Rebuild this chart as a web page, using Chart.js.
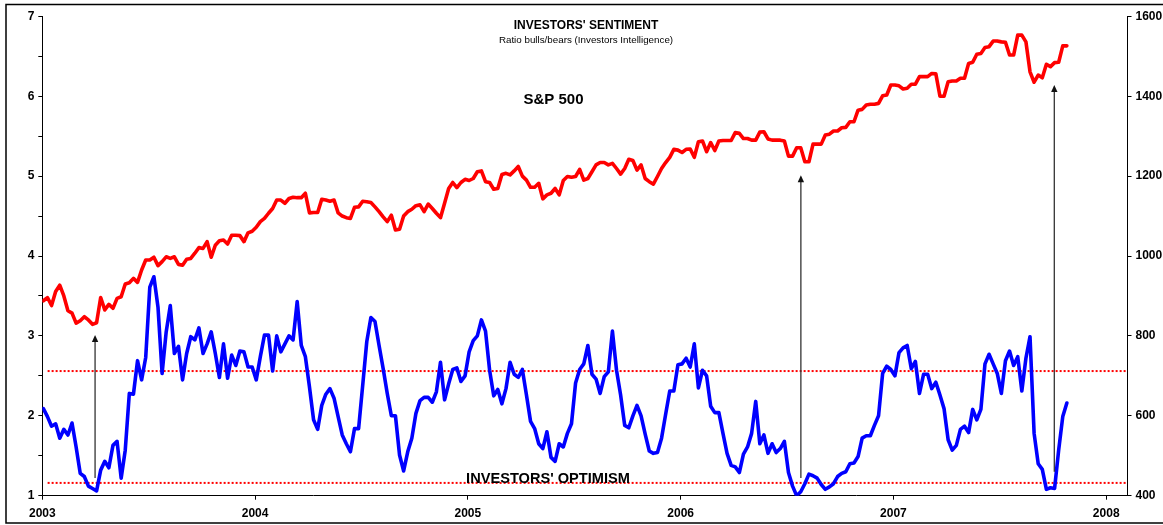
<!DOCTYPE html>
<html>
<head>
<meta charset="utf-8">
<script src="https://cdn.jsdelivr.net/npm/chart.js@4.4.1/dist/chart.umd.min.js"></script>
<style>
  html, body { margin: 0; padding: 0; background: #fff; }
  canvas { display: block; }
</style>
</head>
<body>
<canvas id="chart" width="1163" height="525"></canvas>
<script>
// weekly readings, first week early Jan 2003
const FIRST_WEEK = 2003.005;
const WEEK_STEP = 0.01924;

// Investors Intelligence bulls/bears ratio (left axis)
const bullsBears = [
  2.09, 1.99, 1.87, 1.90, 1.72, 1.83, 1.76, 1.91, 1.61, 1.28,
  1.24, 1.12, 1.09, 1.06, 1.32, 1.43, 1.35, 1.63, 1.68, 1.22,
  1.57, 2.28, 2.27, 2.69, 2.45, 2.73, 3.61, 3.74, 3.36, 2.53,
  3.05, 3.38, 2.78, 2.87, 2.45, 2.78, 2.99, 2.95, 3.10, 2.78,
  2.90, 3.05, 2.78, 2.48, 2.90, 2.47, 2.76, 2.63, 2.81, 2.80,
  2.61, 2.61, 2.45, 2.74, 3.01, 3.01, 2.56, 3.00, 2.80, 2.90,
  3.00, 2.95, 3.43, 2.88, 2.74, 2.36, 1.95, 1.83, 2.13, 2.27,
  2.34, 2.22, 1.99, 1.76, 1.65, 1.55, 1.84, 1.84, 2.38, 2.93,
  3.23, 3.18, 2.88, 2.59, 2.28, 2.00, 2.00, 1.51,
  1.31, 1.55, 1.72, 2.03, 2.19, 2.23, 2.23, 2.17, 2.30, 2.67,
  2.20, 2.40, 2.58, 2.60, 2.43, 2.50, 2.80, 2.94, 3.00, 3.20,
  3.06, 2.57, 2.25, 2.33, 2.15, 2.34, 2.67, 2.52, 2.48, 2.58,
  2.26, 1.93, 1.84, 1.65, 1.59, 1.80, 1.48, 1.43, 1.65, 1.61,
  1.78, 1.90, 2.41, 2.58, 2.65, 2.88, 2.52, 2.46, 2.28, 2.49,
  2.55, 3.06, 2.57, 2.26, 1.88, 1.85, 2.00, 2.13, 2.00, 1.77,
  1.56, 1.53, 1.54, 1.72, 2.02, 2.31, 2.31, 2.64, 2.65, 2.72,
  2.61, 2.90, 2.35, 2.57, 2.50, 2.12, 2.04, 2.04, 1.78, 1.53,
  1.38, 1.36, 1.29, 1.52, 1.61, 1.78,
  2.18, 1.65, 1.76, 1.53, 1.65, 1.54, 1.59, 1.68, 1.29, 1.12,
  1.00, 1.05, 1.15, 1.27, 1.25, 1.22, 1.14, 1.08, 1.11, 1.15,
  1.24, 1.28, 1.30, 1.40, 1.41, 1.49, 1.72, 1.75, 1.75, 1.88,
  2.00, 2.53, 2.62, 2.58, 2.50, 2.79, 2.85, 2.88, 2.59, 2.68,
  2.28, 2.52, 2.52, 2.34, 2.42, 2.26, 2.09, 1.70, 1.57, 1.63,
  1.83, 1.87, 1.79, 2.08, 1.95, 2.08, 2.65, 2.77, 2.65, 2.53,
  2.28, 2.69, 2.81, 2.63, 2.74, 2.31, 2.72, 2.99, 1.78, 1.40,
  1.33, 1.08, 1.10, 1.09, 1.57, 1.99, 2.16
];

// S&P 500 weekly close (right axis)
const sp500 = [
  888, 896, 876, 911, 927, 900, 863, 857, 832, 838,
  848, 840, 829, 833, 896, 865, 879, 869, 894, 898,
  930, 933, 944, 934, 965, 990, 990, 997, 976, 986,
  998, 994, 998, 979, 977, 992, 994, 1007, 1021, 1019,
  1036, 997, 1027, 1038, 1040, 1030, 1052, 1052, 1051, 1036,
  1058, 1062, 1072, 1086, 1094, 1107, 1119, 1140, 1140, 1132,
  1144, 1147, 1146, 1146, 1157, 1108, 1109, 1109, 1142, 1140,
  1137, 1140, 1108, 1100, 1096, 1094, 1122, 1123, 1137, 1136,
  1134, 1123, 1111, 1098, 1086, 1102, 1065, 1067,
  1100, 1111, 1117, 1126, 1128, 1111, 1130, 1119, 1107, 1096,
  1132, 1169, 1184, 1171, 1184, 1192, 1189, 1194, 1211, 1213,
  1186, 1184, 1167, 1169, 1204, 1207, 1203, 1213, 1224, 1200,
  1190, 1172, 1172, 1182, 1143, 1153, 1157, 1169, 1153, 1189,
  1199, 1197, 1199, 1217, 1190, 1194, 1211, 1228, 1234, 1234,
  1228, 1232, 1219, 1205, 1219, 1242, 1239, 1215, 1228, 1194,
  1186, 1180, 1199, 1219, 1234, 1247, 1267, 1265, 1259, 1267,
  1268, 1247, 1286, 1288, 1261, 1284, 1264, 1288, 1289, 1289,
  1289, 1309, 1307, 1294, 1294, 1290,
  1290, 1310, 1311, 1293, 1290, 1290, 1290, 1288, 1250, 1250,
  1271, 1271, 1236, 1236, 1280, 1280, 1280, 1303, 1305, 1313,
  1313, 1321, 1322, 1336, 1336, 1365, 1367, 1378, 1380, 1380,
  1382, 1401, 1403, 1428, 1428, 1426, 1418, 1420, 1430, 1430,
  1449, 1449, 1449, 1457, 1456, 1400, 1400, 1436, 1438, 1438,
  1445, 1445, 1482, 1485, 1505, 1507, 1522, 1524, 1538, 1538,
  1536, 1535, 1503, 1503, 1553, 1553, 1536, 1461, 1435, 1453,
  1446, 1480, 1474, 1484, 1485, 1526, 1526
];

const YEAR_TICKS = [2003, 2004, 2005, 2006, 2007, 2008];
const RATIO_TICKS = [1, 1.5, 2, 2.5, 3, 3.5, 4, 4.5, 5, 5.5, 6, 6.5, 7];
const SP_TICKS = [400, 600, 800, 1000, 1200, 1400, 1600];

// dotted reference levels on the ratio axis
const BAND_LEVELS = [2.56, 1.16];
const BAND_FROM = 2003.025;
const BAND_TO = 2008.1;

// arrows: year, ratio at foot, ratio at tip
const ARROWS = [
  { x: 2003.248, from: 1.22, to: 3.01 },
  { x: 2006.565, from: 1.22, to: 5.01 },
  { x: 2007.756, from: 1.30, to: 6.14 }
];

const FONT = "'Liberation Sans', Arial, sans-serif";

function weekly(values){
  return values.map((v, i) => ({ x: FIRST_WEEK + i * WEEK_STEP, y: v }));
}

const bandSets = BAND_LEVELS.map(lv => ({
  data: [{ x: BAND_FROM, y: lv }, { x: BAND_TO, y: lv }],
  yAxisID: 'y',
  borderColor: '#ff0000',
  borderWidth: 2,
  borderDash: [2, 2],
  pointRadius: 0,
  order: 3
}));

const framePlugin = {
  id: 'frame',
  beforeDraw(chart){
    const ctx = chart.ctx;
    ctx.save();
    ctx.fillStyle = '#fff';
    ctx.fillRect(0, 0, chart.width, chart.height);
    ctx.strokeStyle = '#000';
    ctx.lineWidth = 1.5;
    ctx.strokeRect(6, 4.5, chart.width + 10, 518.5);
    ctx.restore();
  }
};

const notesPlugin = {
  id: 'notes',
  afterDatasetsDraw(chart){
    const ctx = chart.ctx;
    const xs = chart.scales.x, ys = chart.scales.y;
    ctx.save();

    // arrows
    ctx.strokeStyle = '#333';
    ctx.fillStyle = '#111';
    ctx.lineWidth = 1.3;
    ARROWS.forEach(a => {
      const px = xs.getPixelForValue(a.x);
      const y0 = ys.getPixelForValue(a.from);
      const y1 = ys.getPixelForValue(a.to);
      ctx.beginPath();
      ctx.moveTo(px, y0);
      ctx.lineTo(px, y1 + 5);
      ctx.stroke();
      ctx.beginPath();
      ctx.moveTo(px, y1);
      ctx.lineTo(px - 3.2, y1 + 7);
      ctx.lineTo(px + 3.2, y1 + 7);
      ctx.closePath();
      ctx.fill();
    });

    // texts
    ctx.fillStyle = '#000';
    ctx.textAlign = 'center';
    ctx.textBaseline = 'middle';
    ctx.font = 'bold 12px ' + FONT;
    ctx.fillText("INVESTORS' SENTIMENT", 586, 25.5);
    ctx.font = '9.8px ' + FONT;
    ctx.fillText('Ratio bulls/bears (Investors Intelligence)', 586, 40);
    ctx.font = 'bold 15px ' + FONT;
    ctx.fillText('S&P 500', 553.5, 99.5);
    ctx.font = 'bold 14.6px ' + FONT;
    ctx.fillText("INVESTORS' OPTIMISM", 548, 478.5);
    ctx.restore();
  }
};

const tickFont = { family: FONT, size: 12, weight: 'bold' };

new Chart(document.getElementById('chart'), {
  type: 'line',
  data: {
    datasets: [
      {
        label: 'Bulls/Bears',
        data: weekly(bullsBears),
        yAxisID: 'y',
        borderColor: '#0000ff',
        borderWidth: 3.6,
        borderJoinStyle: 'round',
        borderCapStyle: 'round',
        pointRadius: 0,
        tension: 0,
        order: 1
      },
      {
        label: 'S&P 500',
        data: weekly(sp500),
        yAxisID: 'y2',
        borderColor: '#ff0000',
        borderWidth: 3.6,
        borderJoinStyle: 'round',
        borderCapStyle: 'round',
        pointRadius: 0,
        tension: 0,
        order: 2
      },
      ...bandSets
    ]
  },
  options: {
    responsive: false,
    animation: false,
    layout: { padding: { top: 16.3, left: 0, right: 0, bottom: 0 } },
    plugins: { legend: { display: false }, tooltip: { enabled: false } },
    scales: {
      x: {
        type: 'linear',
        min: 2003,
        max: 2008.1,
        afterBuildTicks: s => { s.ticks = YEAR_TICKS.map(v => ({ value: v })); },
        afterFit: s => { s.height = 29.3; },
        ticks: { callback: v => String(v), font: tickFont, color: '#000', padding: 7, maxRotation: 0, autoSkip: false },
        grid: { drawOnChartArea: false, tickLength: 4, color: '#000' },
        border: { color: '#000', width: 1 }
      },
      y: {
        position: 'left',
        min: 1,
        max: 7,
        afterBuildTicks: s => { s.ticks = RATIO_TICKS.map(v => ({ value: v })); },
        afterFit: s => { s.width = 42.3; },
        ticks: { callback: v => Number.isInteger(v) ? String(v) : '', font: tickFont, color: '#000', padding: 4, autoSkip: false },
        grid: { drawOnChartArea: false, tickLength: 4, color: '#000' },
        border: { color: '#000', width: 1 }
      },
      y2: {
        position: 'right',
        min: 400,
        max: 1600,
        afterBuildTicks: s => { s.ticks = SP_TICKS.map(v => ({ value: v })); },
        afterFit: s => { s.width = 35.5; },
        ticks: { callback: v => String(v), font: tickFont, color: '#000', padding: 4, autoSkip: false },
        grid: { drawOnChartArea: false, tickLength: 4, color: '#000' },
        border: { color: '#000', width: 1 }
      }
    }
  },
  plugins: [framePlugin, notesPlugin]
});
</script>
</body>
</html>
